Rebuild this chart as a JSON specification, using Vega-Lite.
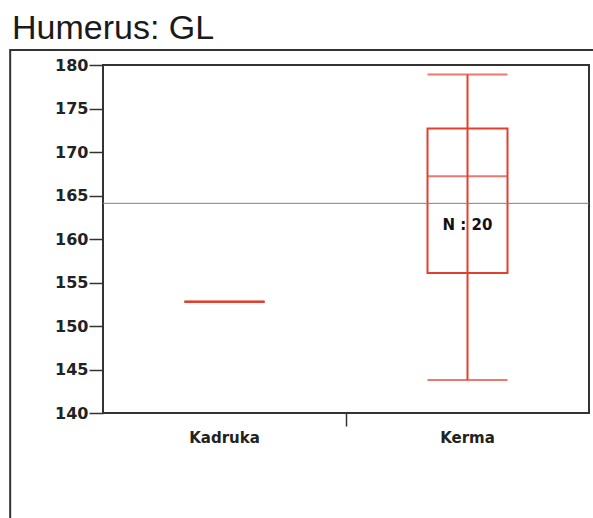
{
  "$schema": "https://vega.github.io/schema/vega-lite/v6.json",
  "width": 486,
  "height": 348,
  "autosize": "none",
  "padding": {"left": 103, "top": 65, "right": 4, "bottom": 105},
  "background": "white",
  "title": {
    "text": "Humerus: GL",
    "anchor": "start",
    "frame": "group",
    "dx": -91,
    "offset": -24,
    "baseline": "alphabetic",
    "fontSize": 34,
    "fontWeight": "normal",
    "font": "Liberation Sans",
    "color": "#1a1a1a"
  },
  "config": {"view": {"stroke": "#333333", "strokeWidth": 2}},
  "datasets": {
    "stats": [
      {"group": "Kadruka", "min": 152.8, "q1": 152.8, "median": 152.8, "q3": 152.8, "max": 152.8, "n": 1},
      {"group": "Kerma", "min": 143.8, "q1": 156.1, "median": 167.2, "q3": 172.7, "max": 178.9, "n": 20}
    ],
    "ref": [{"value": 164.1}]
  },
  "layer": [
    {
      "data": {"values": [{}]},
      "mark": {"type": "rect", "fill": "transparent", "stroke": "#333333", "strokeWidth": 2, "clip": false},
      "encoding": {
        "x": {"datum": -0.191, "type": "quantitative", "scale": {"domain": [0, 1], "nice": false, "zero": false}, "axis": null},
        "x2": {"datum": 1.05},
        "y": {"datum": 1.043, "type": "quantitative", "scale": {"domain": [0, 1], "nice": false, "zero": false}, "axis": null},
        "y2": {"datum": -0.4}
      }
    },
    {
      "data": {"name": "stats"},
      "layer": [
        {
          "mark": {"type": "rule", "color": "#e2402f", "strokeWidth": 2},
          "encoding": {
            "x": {
              "field": "group", "type": "nominal", "title": null,
              "scale": {"paddingInner": 0, "paddingOuter": 0},
              "axis": {"orient": "bottom", "ticks": false, "domain": false, "labelPadding": 17, "labelAngle": 0, "labelFont": "DejaVu Sans", "labelFontSize": 15, "labelFontWeight": "bold", "labelColor": "#222222", "grid": false}
            },
            "y": {
              "field": "min", "type": "quantitative", "title": null,
              "scale": {"domain": [140, 180], "nice": false, "zero": false},
              "axis": {"values": [140, 145, 150, 155, 160, 165, 170, 175, 180], "tickSize": 14, "tickWidth": 1.5, "tickColor": "#333333", "labelFont": "DejaVu Sans", "labelFontSize": 16, "labelFontWeight": "bold", "labelColor": "#222222", "labelPadding": 1, "domain": false, "grid": false}
            },
            "y2": {"field": "max"}
          }
        },
        {
          "mark": {"type": "bar", "width": 80, "fill": "transparent", "stroke": "#e2402f", "strokeWidth": 2},
          "encoding": {
            "x": {"field": "group", "type": "nominal", "title": null, "axis": null},
            "y": {"field": "q1", "type": "quantitative", "title": null},
            "y2": {"field": "q3"}
          }
        },
        {
          "mark": {"type": "tick", "color": "#e2402f", "size": 80, "thickness": 2},
          "encoding": {
            "x": {"field": "group", "type": "nominal", "title": null, "axis": null},
            "y": {"field": "median", "type": "quantitative", "title": null}
          }
        },
        {
          "mark": {"type": "tick", "color": "#e2402f", "size": 80, "thickness": 2},
          "encoding": {
            "x": {"field": "group", "type": "nominal", "title": null, "axis": null},
            "y": {"field": "min", "type": "quantitative", "title": null}
          }
        },
        {
          "mark": {"type": "tick", "color": "#e2402f", "size": 80, "thickness": 2},
          "encoding": {
            "x": {"field": "group", "type": "nominal", "title": null, "axis": null},
            "y": {"field": "max", "type": "quantitative", "title": null}
          }
        },
        {
          "data": {"name": "ref"},
          "mark": {"type": "rule", "color": "#8a7d78", "strokeWidth": 1},
          "encoding": {
            "y": {"field": "value", "type": "quantitative", "title": null}
          }
        },
        {
          "transform": [
            {"filter": "datum.n > 1"},
            {"calculate": "'N : ' + datum.n", "as": "label"},
            {"calculate": "(datum.q1 + datum.median) / 2", "as": "ly"}
          ],
          "mark": {"type": "text", "font": "DejaVu Sans", "fontWeight": "bold", "fontSize": 15, "color": "#111111"},
          "encoding": {
            "x": {
              "field": "group", "type": "nominal", "title": null,
              "axis": {"orient": "bottom", "values": ["Kerma"], "bandPosition": 0, "labels": false, "domain": false, "tickSize": 13, "tickWidth": 1.5, "tickColor": "#333333", "grid": false}
            },
            "y": {"field": "ly", "type": "quantitative", "title": null},
            "text": {"field": "label"}
          }
        }
      ],
      "resolve": {"axis": {"x": "independent"}}
    }
  ],
  "resolve": {"scale": {"x": "independent", "y": "independent"}}
}
